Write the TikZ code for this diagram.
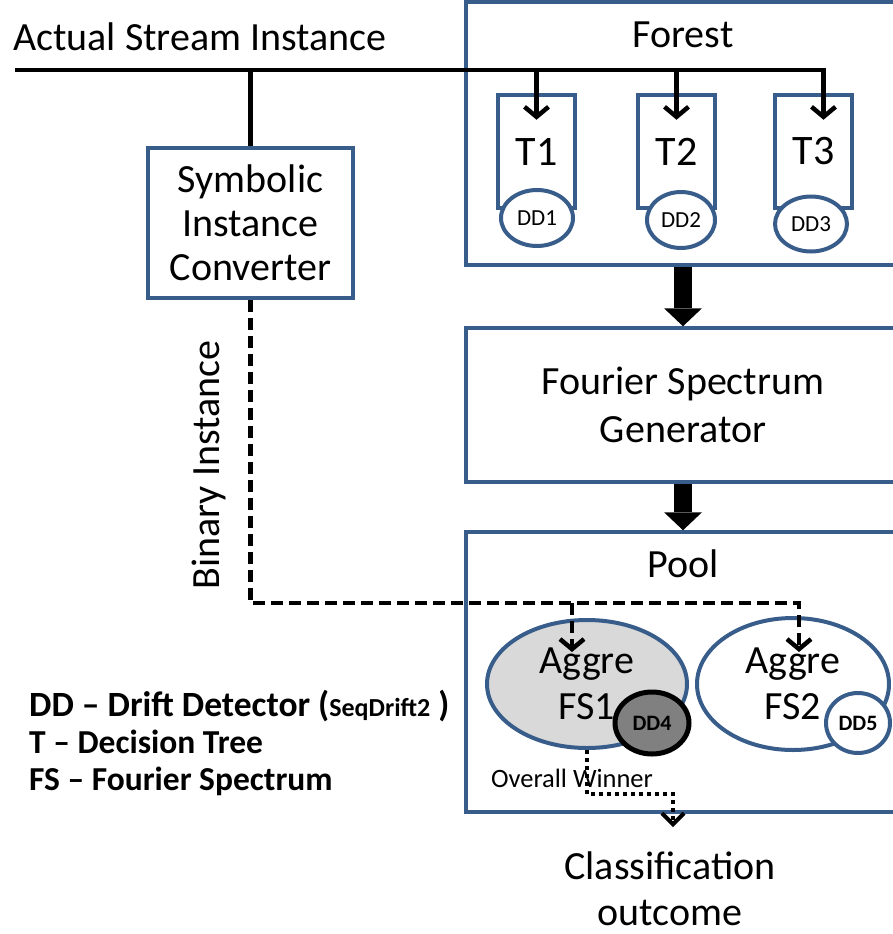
\documentclass[tikz,border=0pt]{standalone}
\usepackage{fontspec}
\setmainfont{Carlito}
\usetikzlibrary{arrows.meta,shapes.geometric,positioning}
\definecolor{boxblue}{HTML}{385D8A}
\definecolor{poolgray}{HTML}{D9D9D9}
\definecolor{ddgray}{HTML}{808080}
\begin{document}
\begin{tikzpicture}[
		x=1pt,y=-1pt,
		big/.style={font=\fontsize{40}{46}\selectfont},
		small/.style={font=\fontsize{23}{26}\selectfont},
		panel/.style={draw=boxblue,line width=3.5pt,rectangle,inner sep=0pt},
		treebox/.style={panel,line width=4.5pt,minimum width=77pt,minimum height=113pt,font=\fontsize{42}{46}\selectfont},
		ddnode/.style={ellipse,draw=boxblue,line width=4pt,fill=white,inner sep=0pt,minimum width=72pt,minimum height=56pt,small},
		aggre/.style={ellipse,draw=boxblue,line width=4pt,inner sep=0pt,big,align=center},
		feed/.style={line width=4.5pt,-{Straight Barb[length=10pt,width=24pt]}},
		fatarrow/.style={line width=18pt,-{Triangle[length=18pt,width=38pt,line width=0pt]}},
		binline/.style={line width=4.5pt,dash pattern=on 12pt off 6pt,-{Straight Barb[length=10pt,width=24pt]}},
		winline/.style={line width=4pt,dash pattern=on 4pt off 4pt,-{Straight Barb[length=11pt,width=22pt]}},
		legend/.style={font=\fontsize{33.5}{38}\bfseries\selectfont,anchor=base west,inner sep=0pt}
	]
	\clip (0,0) rectangle (893,934);

	% input stream
	\node[big] (streamlabel) at (200,37) {Actual Stream Instance};
	\coordinate (stream-w) at (15,70);

	% forest with the three trees
	\node[panel,minimum width=434pt,minimum height=263pt] (forest) at (683,133.5) {};
	\node[big] (foresttitle) at ([yshift=-35pt]forest.north) {Forest};
	\node[treebox] (T1) at (536.5,151.5) {T1};
	\node[treebox] (T2) at (676.5,151.5) {T2};
	\node[treebox] (T3) at (813.5,151.5) {T3};
	\node[ddnode] (DD1) at (537,218) {DD1};
	\node[ddnode,minimum width=68pt] (DD2) at (681,220) {DD2};
	\node[ddnode,minimum height=55pt] (DD3) at (811,224) {DD3};

	% converter
	\node[panel,minimum width=205pt,minimum height=150pt,font=\fontsize{40}{44}\selectfont,align=center] (conv) at (250.5,223) {Symbolic\\Instance\\Converter};

	% generator and pool
	\node[panel,minimum width=434pt,minimum height=154pt,font=\fontsize{40}{48}\selectfont,align=center] (fsg) at (683,405) {Fourier Spectrum\\Generator};
	\node[panel,minimum width=434pt,minimum height=280pt] (pool) at (683,672) {};
	\node[big] (pooltitle) at ([yshift=-33pt]pool.north) {Pool};
	\node[aggre,fill=poolgray,minimum width=200pt,minimum height=128pt] (aggre1) at (587,684) {Aggre\\FS1};
	\node[ellipse,draw=black,line width=5pt,fill=ddgray,inner sep=0pt,minimum width=74pt,minimum height=62pt,font=\fontsize{22}{26}\bfseries\selectfont] (DD4) at (652,723) {DD4};
	\node[aggre,fill=white,minimum width=192pt,minimum height=132pt] (aggre2) at (793,684) {Aggre\\FS2};
	\node[ddnode,minimum width=64pt,minimum height=60pt,font=\fontsize{22}{26}\bfseries\selectfont] (DD5) at (858,723) {DD5};

	% stream connections
	\draw[feed] (stream-w) -| ([xshift=10pt,yshift=-27pt]T3.north);
	\draw[feed] (T1.north |- stream-w) -- ([yshift=-27pt]T1.north);
	\draw[feed] (T2.north |- stream-w) -- ([yshift=-27pt]T2.north);
	\draw[line width=4.5pt] (conv.north |- stream-w) -- (conv.north);

	\draw[fatarrow] (forest.south) -- (fsg.north);
	\draw[fatarrow] (fsg.south) -- (pool.north);

	% binary instances
	\coordinate (fs1in) at (572,652);
	\coordinate (fs2in) at (799,652);
	\draw[binline] (conv.south) |- ([yshift=49pt]fs2in) -- (fs2in);
	\draw[binline] ([yshift=49pt]fs1in) -- (fs1in);
	\node[big,rotate=90] (binlabel) at (209,465) {Binary Instance};

	% winner
	\coordinate (outtip) at (673,827);
	\draw[winline] (aggre1.south) -- ++(0,44) -| (outtip);
	\node[font=\fontsize{26.5}{30}\selectfont] (winlabel) at (572,778) {Overall Winner};
	\node[big,align=center] (outcome) at (670,889) {Classification\\outcome};

	% legend
	\node[legend,font=\fontsize{35.5}{40}\bfseries\selectfont] (leg1) at (29,716) {DD -- Drift Detector ({\fontsize{26}{28}\selectfont SeqDrift2} )};
	\node[legend] (leg2) at (29,753) {T -- Decision Tree};
	\node[legend] (leg3) at (29,790) {FS -- Fourier Spectrum};
\end{tikzpicture}
\end{document}
